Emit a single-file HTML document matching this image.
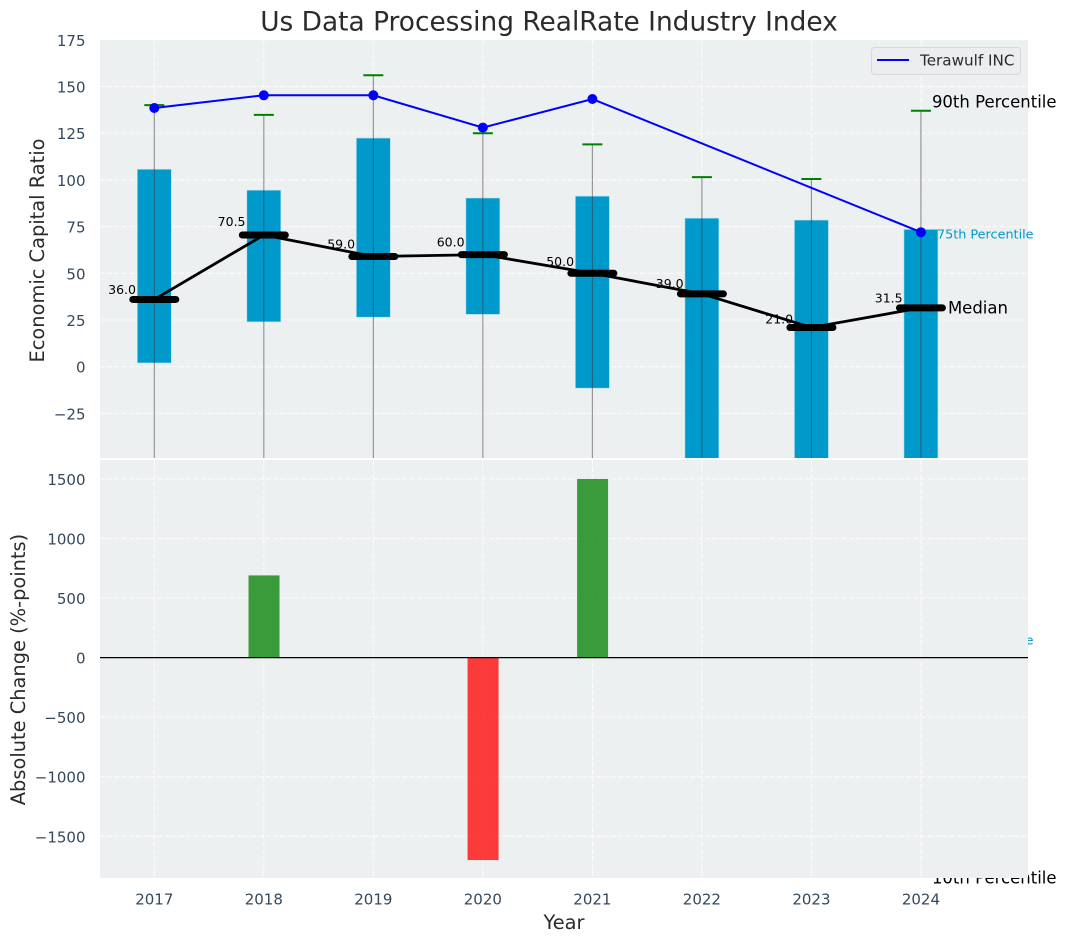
<!DOCTYPE html>
<html lang="en">
<head>
<meta charset="utf-8">
<title>Us Data Processing RealRate Industry Index</title>
<style>
html,body{margin:0;padding:0;background:#fff;width:1067px;height:942px;overflow:hidden}
svg{display:block;font-family:"DejaVu Sans","Liberation Sans",sans-serif}
</style>
</head>
<body>
<svg id="chart" xmlns="http://www.w3.org/2000/svg" width="1067" height="942" viewBox="0 0 1067 942">
<defs><clipPath id="top-clip"><rect x="100" y="40" width="928" height="418"/></clipPath><clipPath id="bottom-clip"><rect x="100" y="460" width="928" height="418"/></clipPath></defs>
<rect width="1067" height="942" fill="#fff"/>
<g id="top-under"></g>
<g id="bottom"></g>
<g id="static">
<text x="549" y="22" text-anchor="middle" dominant-baseline="central" font-size="26.4px" fill="#2b2b2b">Us Data Processing RealRate Industry Index</text>
<text transform="translate(37.5 250.5) rotate(-90)" text-anchor="middle" dominant-baseline="central" font-size="19.4px" fill="#2b2b2b">Economic Capital Ratio</text>
<text transform="translate(18.5 669.5) rotate(-90)" text-anchor="middle" dominant-baseline="central" font-size="19.4px" fill="#2b2b2b">Absolute Change (%-points)</text>
<text x="564" y="922.5" text-anchor="middle" dominant-baseline="central" font-size="19.4px" fill="#2b2b2b">Year</text>
</g>
<g id="legend">
<rect x="871.5" y="47.5" width="149" height="27" rx="3" fill="#ebedf1" stroke="#d6d8da" stroke-width="1"/>
<line x1="877" y1="60" x2="909" y2="60" stroke="#0000ff" stroke-width="2"/>
<text x="920" y="60.5" dominant-baseline="central" font-size="15.2px" fill="#2b2b2b">Terawulf INC</text>
</g>
</svg>
<script>
const years = [2017, 2018, 2019, 2020, 2021, 2022, 2023, 2024];
const p90 = [140, 134.8, 156, 125, 119, 101.5, 100.5, 137];
const p75 = [105.7, 94.5, 122.4, 90.3, 91.3, 79.5, 78.5, 73.5];
const medians = [36, 70.5, 59, 60, 50, 39, 21, 31.5];
const p25 = [2, 24, 26.5, 28, -11.5, -60, -65, -144];
const p10 = [-80, -90, -85, -70, -120, -180, -200, -278.5];
const terawulf = [138.5, 145.3, 145.3, 128, 143.3, null, null, 72];
const changes = [null, 690, null, -1700, 1500, null, null, null];
const topTicks = [175, 150, 125, 100, 75, 50, 25, 0, -25];
const bottomTicks = [1500, 1000, 500, 0, -500, -1000, -1500];

const NS = 'http://www.w3.org/2000/svg';
const xAt = function (year) { return 154.3 + (year - 2017) * 109.52; };
const yTop = function (v) { return 366.7 - v * 1.868; };
const yBottom = function (v) { return 657.6 - v * 0.1191; };
const fmtTick = function (v) { return v < 0 ? '\u2212' + Math.abs(v) : String(v); };
function make(parent, tag, attrs, text) {
  const el = document.createElementNS(NS, tag);
  for (const k in attrs) el.setAttribute(k, attrs[k]);
  if (text !== undefined) el.textContent = text;
  parent.appendChild(el);
  return el;
}
const topG = document.getElementById('top-under');
const bottomG = document.getElementById('bottom');
let el;

// top panel background
el = make(topG, 'rect', {x: 100, y: 40, width: 928, height: 418, fill: '#ecf0f1'});



const topClip = make(topG, 'g', {'clip-path': 'url(#top-clip)'});



topTicks.forEach(function (t) {
  el = make(topClip, 'line', {x1: 100, x2: 1028, y1: yTop(t), y2: yTop(t), stroke: '#fff', 'stroke-width': 1, 'stroke-dasharray': '5 2.2', opacity: 0.85});
  
  
  el = make(topG, 'text', {x: 85.5, y: yTop(t) + 1, 'text-anchor': 'end', 'dominant-baseline': 'central', 'font-size': '15px', fill: '#34495e'}, fmtTick(t));
  
  
});
years.forEach(function (yr) {
  el = make(topClip, 'line', {x1: xAt(yr), x2: xAt(yr), y1: 40, y2: 458, stroke: '#fff', 'stroke-width': 1, 'stroke-dasharray': '5 2.2', opacity: 0.85});
  
  
});

// inter-quartile bars
years.forEach(function (yr, i) {
  el = make(topClip, 'rect', {x: xAt(yr) - 17, y: yTop(p75[i]), width: 34, height: yTop(p25[i]) - yTop(p75[i]), fill: '#0099cc', stroke: '#b9e0ee', 'stroke-width': 0.6});
  
  
});
// whiskers and caps
years.forEach(function (yr, i) {
  el = make(topClip, 'line', {x1: xAt(yr), x2: xAt(yr), y1: yTop(p90[i]), y2: yTop(p10[i]), stroke: '#3a3a3a', 'stroke-width': 1.1, opacity: 0.55});
  
  
  el = make(topClip, 'line', {x1: xAt(yr) - 10, x2: xAt(yr) + 10, y1: yTop(p90[i]), y2: yTop(p90[i]), stroke: '#008000', 'stroke-width': 2});
  
  
});
// median value labels
years.forEach(function (yr, i) {
  el = make(topClip, 'text', {x: xAt(yr) - 18.3, y: yTop(medians[i] * 1.055) - 2, 'text-anchor': 'end', 'font-size': '12.5px', fill: '#000'}, medians[i].toFixed(1));
  
  
});
// median line + thick markers
el = make(topClip, 'polyline', {points: years.map(function (yr, i) { return xAt(yr) + ',' + yTop(medians[i]); }).join(' '), fill: 'none', stroke: '#000', 'stroke-width': 2.8});


years.forEach(function (yr, i) {
  el = make(topClip, 'line', {x1: xAt(yr) - 21.5, x2: xAt(yr) + 21.5, y1: yTop(medians[i]), y2: yTop(medians[i]), stroke: '#000', 'stroke-width': 7, 'stroke-linecap': 'round'});
  
  
});
// company line
const companyPts = years.map(function (yr, i) { return terawulf[i] === null ? null : [xAt(yr), yTop(terawulf[i])]; }).filter(Boolean);
el = make(topClip, 'polyline', {points: companyPts.map(function (p) { return p.join(','); }).join(' '), fill: 'none', stroke: '#0000ff', 'stroke-width': 2});


companyPts.forEach(function (p) {
  el = make(topClip, 'circle', {cx: p[0], cy: p[1], r: 5, fill: '#0000ff'});
  
  
});
// percentile annotations (unclipped, partly hidden by the lower panel)
const last = years.length - 1;
const lastX = xAt(years[last]);
el = make(topG, 'text', {x: lastX + 11, y: yTop(p90[last]) - 9, 'dominant-baseline': 'central', 'font-size': '16.5px', fill: '#000'}, '90th Percentile');


el = make(topG, 'text', {x: lastX + 16, y: yTop(p75[last]) + 5.5, 'dominant-baseline': 'central', 'font-size': '12.8px', fill: '#0099cc'}, '75th Percentile');


el = make(topG, 'text', {x: lastX + 27, y: yTop(medians[last]), 'dominant-baseline': 'central', 'font-size': '16.5px', fill: '#000'}, 'Median');


el = make(topG, 'text', {x: lastX + 16, y: yTop(p25[last]) + 5.5, 'dominant-baseline': 'central', 'font-size': '12.8px', fill: '#0099cc'}, '25th Percentile');


el = make(topG, 'text', {x: lastX + 11, y: yTop(p10[last]) - 9, 'dominant-baseline': 'central', 'font-size': '16.5px', fill: '#000'}, '10th Percentile');



// bottom panel
el = make(bottomG, 'rect', {x: 100, y: 460, width: 928, height: 418, fill: '#ecf0f1'});


const bottomClip = make(bottomG, 'g', {'clip-path': 'url(#bottom-clip)'});


bottomTicks.forEach(function (t) {
  el = make(bottomClip, 'line', {x1: 100, x2: 1028, y1: yBottom(t), y2: yBottom(t), stroke: '#fff', 'stroke-width': 1, 'stroke-dasharray': '5 2.2', opacity: 0.85});
  
  
  el = make(bottomG, 'text', {x: 85.5, y: yBottom(t) + 1, 'text-anchor': 'end', 'dominant-baseline': 'central', 'font-size': '15px', fill: '#34495e'}, fmtTick(t));
  
  
});
years.forEach(function (yr, i) {
  el = make(bottomClip, 'line', {x1: xAt(yr), x2: xAt(yr), y1: 460, y2: 878, stroke: '#fff', 'stroke-width': 1, 'stroke-dasharray': '5 2.2', opacity: 0.85});
  
  
  el = make(bottomG, 'text', {x: xAt(yr), y: 899.5, 'text-anchor': 'middle', 'dominant-baseline': 'central', 'font-size': '15px', fill: '#34495e'}, String(yr));
  
  
  const c = changes[i];
  if (c !== null) {
    el = make(bottomClip, 'rect', {x: xAt(yr) - 15.3, y: Math.min(yBottom(c), yBottom(0)), width: 31, height: Math.abs(yBottom(c) - yBottom(0)), fill: c >= 0 ? '#008000' : '#ff0000', 'fill-opacity': 0.76});
    
    
  }
});
el = make(bottomClip, 'line', {x1: 100, x2: 1028, y1: yBottom(0), y2: yBottom(0), stroke: '#000', 'stroke-width': 1.3});


</script>
</body>
</html>
